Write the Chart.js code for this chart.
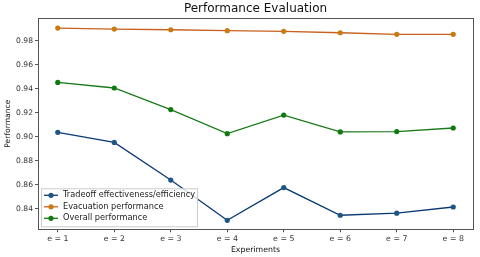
<!DOCTYPE html>
<html>
<head>
<meta charset="utf-8">
<script src="https://cdn.jsdelivr.net/npm/chart.js@4"></script>
<style>
    html, body { margin: 0; padding: 0; background: #fff; }
    #wrap { width: 480px; height: 257px; }
</style>
</head>
<body>
<div id="wrap"><canvas id="chart-performance"></canvas></div>
<script>
const categories = ['e = 1', 'e = 2', 'e = 3', 'e = 4', 'e = 5', 'e = 6', 'e = 7', 'e = 8'];
const tradeoff = [0.9036, 0.8952, 0.8638, 0.8302, 0.8575, 0.8344, 0.8361, 0.8413];
const evacuation = [0.9906, 0.9898, 0.9892, 0.9884, 0.9879, 0.9867, 0.9854, 0.9854];
const overall = [0.9452, 0.9406, 0.9226, 0.9025, 0.9180, 0.9039, 0.9042, 0.9072];
const yTicks = [0.84, 0.86, 0.88, 0.90, 0.92, 0.94, 0.96, 0.98];

const FONT = 'DejaVu Sans';
const TITLE = 'Performance Evaluation';

function points(values) {
    return values.map(function (v, i) { return { x: i + 1, y: v }; });
}

function series(label, values, lineColor, dotColor) {
    return {
        label: label,
        data: points(values),
        borderColor: lineColor,
        backgroundColor: dotColor,
        pointBackgroundColor: dotColor,
        pointBorderColor: dotColor,
        pointRadius: 2.6,
        pointBorderWidth: 0,
        borderWidth: 1.3,
        tension: 0,
    };
}

// title over the plot area, frame round it, legend inside lower left
const framePlugin = {
    id: 'frame',
    afterDraw(chart) {
        const ctx = chart.ctx;
        const a = chart.chartArea;
        ctx.save();

        ctx.fillStyle = '#111';
        ctx.font = '12px "' + FONT + '"';
        ctx.textAlign = 'center';
        ctx.textBaseline = 'middle';
        ctx.fillText(TITLE, (a.left + a.right) / 2, 9);
        ctx.textAlign = 'left';

        ctx.strokeStyle = '#555';
        ctx.lineWidth = 1;
        ctx.strokeRect(Math.round(a.left) + 0.5, Math.round(a.top) + 0.5,
            Math.round(a.right - a.left), Math.round(a.bottom - a.top));

        // legend
        const bx = a.left + 3, by = a.bottom - 41, bw = 156, bh = 38;
        ctx.fillStyle = 'rgba(255,255,255,0.8)';
        ctx.strokeStyle = '#ccc';
        ctx.fillRect(bx + 0.5, by + 0.5, bw, bh);
        ctx.strokeRect(bx + 0.5, by + 0.5, bw, bh);
        ctx.font = '8.2px "' + FONT + '"';
        chart.data.datasets.forEach(function (ds, i) {
            const y = by + 7 + i * 11.5;
            ctx.strokeStyle = ds.borderColor;
            ctx.lineWidth = 1.3;
            ctx.beginPath();
            ctx.moveTo(bx + 3, y);
            ctx.lineTo(bx + 17, y);
            ctx.stroke();
            ctx.fillStyle = ds.pointBackgroundColor;
            ctx.beginPath();
            ctx.arc(bx + 10, y, 2.6, 0, Math.PI * 2);
            ctx.fill();
            ctx.fillStyle = '#222';
            ctx.fillText(ds.label, bx + 22, y);
        });
        ctx.restore();
    },
};

const canvas = document.getElementById('chart-performance');

new Chart(canvas, {
    type: 'line',
    data: {
        datasets: [
            series('Tradeoff effectiveness/efficiency', tradeoff, '#0b3a75', '#1d5685'),
            series('Evacuation performance', evacuation, '#c9601e', '#c97a10'),
            series('Overall performance', overall, '#187a18', '#0f7a0f'),
        ],
    },
    options: {
        responsive: true,
        maintainAspectRatio: false,
        animation: false,
        devicePixelRatio: 1,
        layout: {
            padding: { left: 3, right: 7, top: 18, bottom: 2 },
        },
        plugins: {
            legend: { display: false },
            tooltip: { enabled: false },
            title: { display: false },
        },
        scales: {
            x: {
                type: 'linear',
                min: 0.65,
                max: 8.35,
                afterBuildTicks: function (axis) {
                    axis.ticks = categories.map(function (c, i) { return { value: i + 1 }; });
                },
                ticks: {
                    color: '#333',
                    font: { family: FONT, size: 7.8 },
                    padding: 2,
                    maxRotation: 0,
                    callback: function (value) { return categories[value - 1]; },
                },
                grid: { drawOnChartArea: false, drawTicks: true, tickLength: 3, color: '#555' },
                border: { display: false },
                title: {
                    display: true,
                    text: 'Experiments',
                    color: '#111',
                    font: { family: FONT, size: 7.8 },
                    padding: { top: 0, bottom: 0 },
                },
            },
            y: {
                min: 0.8227,
                max: 0.999,
                afterFit: function (axis) { axis.width = 35; },
                afterBuildTicks: function (axis) {
                    axis.ticks = yTicks.map(function (v) { return { value: v }; });
                },
                ticks: {
                    color: '#333',
                    font: { family: FONT, size: 7.6 },
                    padding: 2,
                    callback: function (value) { return value.toFixed(2); },
                },
                grid: { drawOnChartArea: false, drawTicks: true, tickLength: 3, color: '#555' },
                border: { display: false },
                title: {
                    display: true,
                    text: 'Performance',
                    color: '#111',
                    font: { family: FONT, size: 7.6 },
                    padding: { top: 0, bottom: 0 },
                },
            },
        },
    },
    plugins: [framePlugin],
});
</script>
</body>
</html>
